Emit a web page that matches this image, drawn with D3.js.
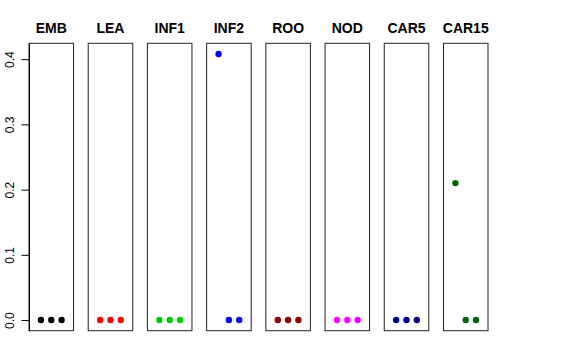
<!DOCTYPE html>
<html><head><meta charset="utf-8">
<script src="https://cdn.jsdelivr.net/npm/d3@7"></script>
<style>body{margin:0;background:#fff}svg{display:block;font-family:"Liberation Sans",Arial,sans-serif}</style>
</head><body>
<svg id="c" width="576" height="360"></svg>
<script>
const categories = ["EMB","LEA","INF1","INF2","ROO","NOD","CAR5","CAR15"];
const colors = ["#000000","#FF0000","#00CD00","#0000FF","#8B0000","#FF00FF","#00008B","#006400"];
const EMB = [0,0,0];
const LEA = [0,0,0];
const INF1 = [0,0,0];
const INF2 = [0.408,0,0];
const ROO = [0,0,0];
const NOD = [0,0,0];
const CAR5 = [0,0,0];
const CAR15 = [0.21,0,0];
const series = [EMB,LEA,INF1,INF2,ROO,NOD,CAR5,CAR15];
const yTicks = [0,0.1,0.2,0.3,0.4];
const yTickLabels = ["0.0","0.1","0.2","0.3","0.4"];

const svg = d3.select("#c");
const plotTop = 43.3, plotBottom = 330.7;
const band = d3.scaleBand().domain(categories).range([29,488]).paddingInner(0.2476).paddingOuter(0);
const ymax = 0.408, ymin = 0;
const pad = (ymax-ymin)*0.04;
const y = d3.scaleLinear().domain([ymin-pad, ymax+pad]).range([plotBottom, plotTop]);

categories.forEach((cat,i)=>{
  const x0 = band(cat), w = band.bandwidth();
  const x = d3.scaleLinear().domain([-0.16,4.16]).range([x0, x0+w]);
  const g = svg.append("g");
  g.append("rect").attr("x",x0).attr("y",plotTop).attr("width",w).attr("height",plotBottom-plotTop)
    .attr("fill","none").attr("stroke","#222").attr("stroke-width",1);
  g.selectAll("circle").data(series[i]).join("circle")
    .attr("cx",(d,j)=>x(j+1)).attr("cy",d=>y(d)).attr("r",3.2).attr("fill",colors[i]);
  g.append("text").attr("x",x0+w/2).attr("y",33.3).attr("text-anchor","middle")
    .attr("font-weight","bold").attr("font-size",14).text(cat);
});

const axis = d3.axisLeft(y).tickValues(yTicks).tickFormat((d,i)=>yTickLabels[i]).tickSize(7.5).tickSizeOuter(0);
const ag = svg.append("g").attr("transform",`translate(${band(categories[0])},0)`).call(axis);
ag.select(".domain").attr("stroke","#000");
ag.selectAll(".tick line").attr("stroke","#000");
ag.selectAll(".tick text").attr("font-size",12).attr("font-family","'Liberation Sans',Arial,sans-serif")
  .attr("fill","#000").attr("transform","rotate(-90)").attr("x",0).attr("y",-15.5).attr("dy",0)
  .attr("text-anchor","middle");
</script>
</body></html>
